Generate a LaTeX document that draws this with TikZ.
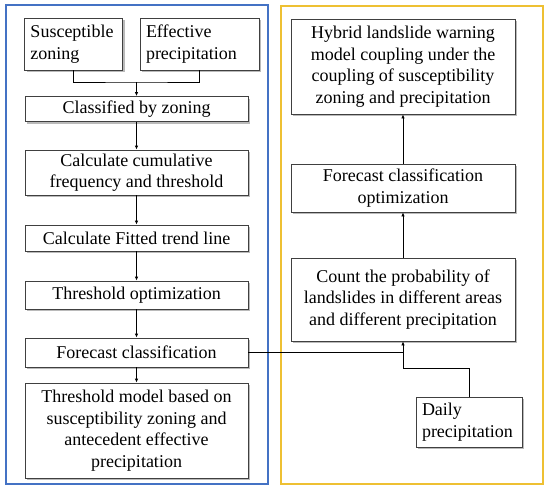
\documentclass[tikz,border=0pt]{standalone}
\usepackage{fontspec}
\setmainfont{Liberation Serif}
\usetikzlibrary{shadows,arrows.meta}
\definecolor{frameblue}{RGB}{68,114,196}
\definecolor{frameyellow}{RGB}{238,192,50}
\begin{document}
\begin{tikzpicture}[x=1pt,y=-1pt,
  box/.style={draw=black!75, line width=0.8pt, fill=white, inner sep=2pt,
    drop shadow={shadow xshift=2pt, shadow yshift=-2pt, fill=black!45, opacity=0.6},
    font=\fontsize{18}{21.5}\selectfont, align=center},
  lbox/.style={box, align=left, inner xsep=6pt},
  conn/.style={line width=0.8pt, draw=black},
  arr/.style={conn, -{Latex[length=4pt,width=3.5pt]}},
  frame/.style={line width=1.8pt}]
\useasboundingbox (0,0) rectangle (550,491);
\draw[frame, draw=frameblue] (6,5) rectangle (268,484);
\draw[frame, draw=frameyellow] (281,6) rectangle (543,484);

\node[lbox, text width=86pt, minimum height=52pt] (sz) at (73.5,44) {Susceptible\\zoning};
\node[lbox, text width=107pt, minimum height=52pt] (ep) at (199.5,44) {Effective\\precipitation};
\node[box, minimum width=223pt, minimum height=25pt] (cz) at (136.5,109) {Classified by zoning};
\node[box, minimum width=223pt, minimum height=45pt] (cc) at (136.5,172.5) {Calculate cumulative\\frequency and threshold};
\node[box, minimum width=223pt, minimum height=26pt] (cf) at (136.5,238) {Calculate Fitted trend line};
\node[box, minimum width=223pt, minimum height=28pt] (to) at (136.5,295) {Threshold optimization};
\node[box, minimum width=223pt, minimum height=29pt] (fc) at (136.5,352.5) {Forecast classification};
\node[box, minimum width=223pt, minimum height=95pt] (tm) at (136.5,430.5) {Threshold model based on\\susceptibility zoning and\\antecedent effective\\precipitation};

\node[box, minimum width=224pt, minimum height=95pt] (hy) at (403,66.5) {Hybrid landslide warning\\model coupling under the\\coupling of susceptibility\\zoning and precipitation};
\node[box, minimum width=224pt, minimum height=48pt] (fo) at (403,188) {Forecast classification\\optimization};
\node[box, minimum width=224pt, minimum height=83pt] (cp) at (403,299.5) {Count the probability of\\landslides in different areas\\and different precipitation};
\node[lbox, text width=94pt, minimum height=50pt] (dp) at (469,422) {Daily\\precipitation};

\coordinate (m1) at (136.5,82);
\draw[conn] (sz.south) |- (m1) -| (ep.south);
\draw[arr] (m1) -- (cz.north);
\draw[arr] (cz) -- (cc);
\draw[arr] (cc) -- (cf);
\draw[arr] (cf) -- (to);
\draw[arr] (to) -- (fc);
\draw[arr] (fc) -- (tm);
\coordinate (j) at (cp.south |- fc.east);
\draw[conn] (fc.east) -- (j);
\draw[arr] (j) -- (cp.south);
\draw[conn] (dp.north) |- (403,368) -- (j);
\draw[arr] (cp) -- (fo);
\draw[arr] (fo) -- (hy);
\end{tikzpicture}
\end{document}
